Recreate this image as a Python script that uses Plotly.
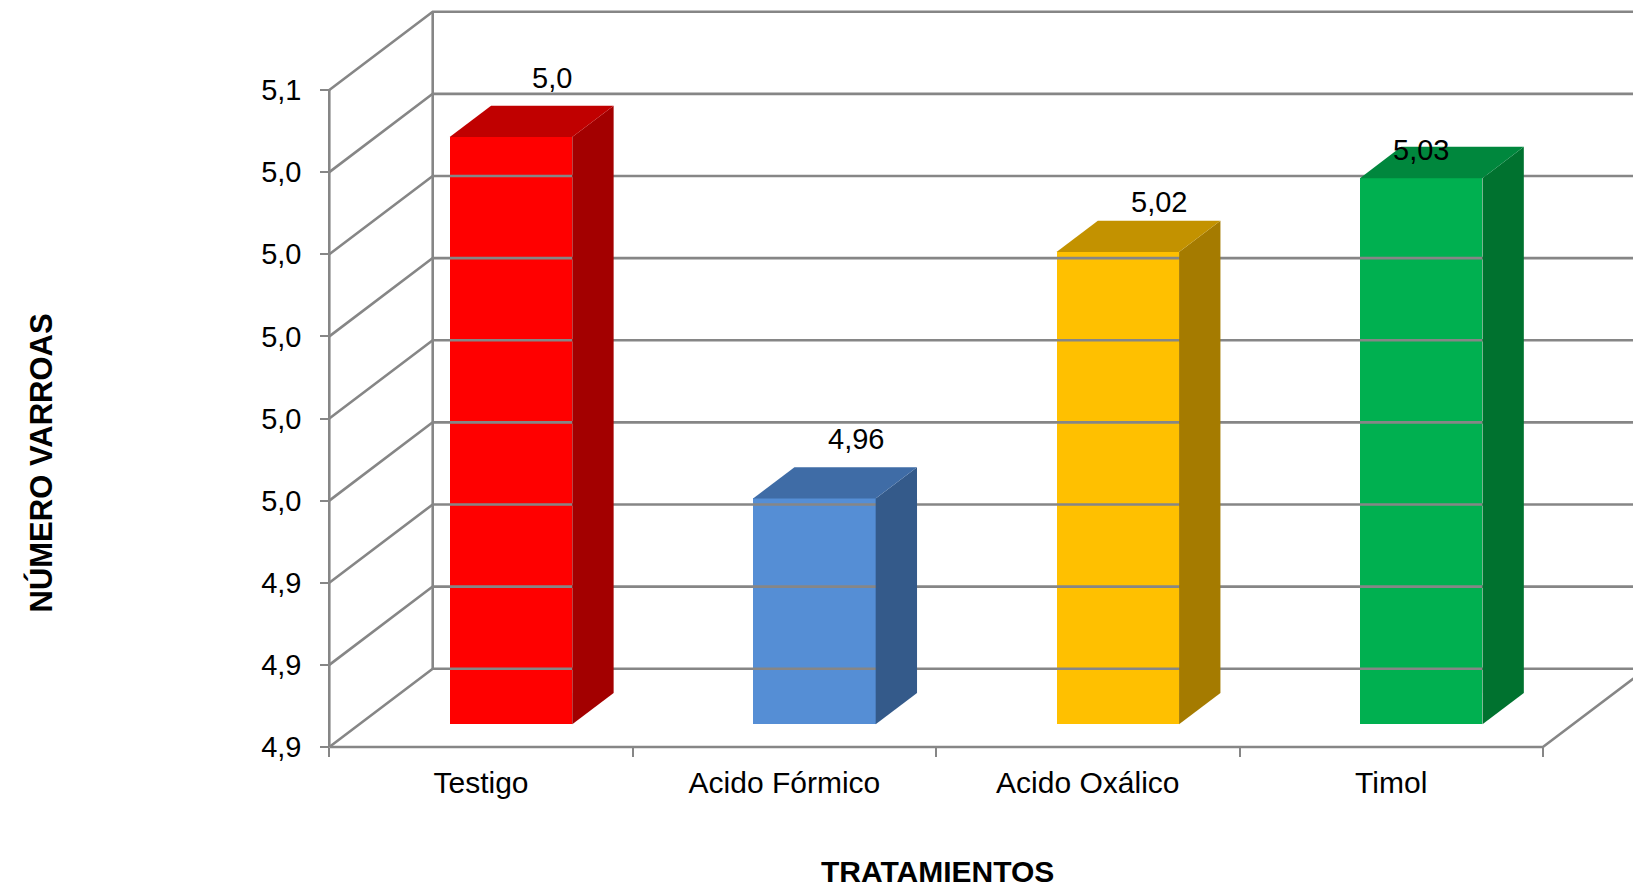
import plotly.graph_objects as go

# ---------------- data ----------------
categories = ["Testigo", "Acido Fórmico", "Acido Oxálico", "Timol"]
values = [5.043, 4.955, 5.015, 5.033]
value_labels = ["5,0", "4,96", "5,02", "5,03"]
y_tickvals = [4.90, 4.92, 4.94, 4.96, 4.98, 5.00, 5.02, 5.04, 5.06]
y_ticktext = ["4,9", "4,9", "4,9", "5,0", "5,0", "5,0", "5,0", "5,0", "5,1"]

# ---------------- style ----------------
front_colors = ["#FF0000", "#558ED5", "#FFC000", "#00B050"]
top_colors = ["#C00000", "#3F6CA6", "#C39200", "#00873D"]
side_colors = ["#A30000", "#345A8A", "#A57B00", "#00722F"]
GRID = "#868686"
FONT = "Liberation Sans, Arial, sans-serif"

W, H = 1633, 894
X0_PX, CAT_PX = 329.3, 303.4      # pixel of front y-axis, pixels per category
Y0_PX, UNIT_PX = 747.0, 4106.25   # pixel of floor front edge, pixels per value unit
DX = 103.4 / CAT_PX               # depth offset (x, data units)
DY = 78.3 / UNIT_PX               # depth offset (y, data units)
BAR_W = 0.404
F0, F1 = 0.29, 0.69               # bar front/back depth fractions
label_depth = [F1, F1, F1, F0]
label_yshift = [28, 28, 19, 28]

ymin = y_tickvals[0]
ymax = y_tickvals[-1]
ncat = len(categories)
x_range = [-X0_PX / CAT_PX, (W - X0_PX) / CAT_PX]
y_range = [ymin - (H - Y0_PX) / UNIT_PX, ymin + Y0_PX / UNIT_PX]

fig = go.Figure()

def line(xs, ys):
    fig.add_trace(go.Scatter(x=xs, y=ys, mode="lines",
                             line=dict(color=GRID, width=2.6),
                             hoverinfo="skip", showlegend=False))

# walls / gridlines
line([0, 0], [ymin, ymax])
line([DX, DX], [ymin + DY, ymax + DY])
for v in y_tickvals:
    line([0, DX, ncat + DX], [v, v + DY, v + DY])
# floor
line([0, ncat, ncat + DX], [ymin, ymin, ymin + DY])

# bars
for i, (cat, v) in enumerate(zip(categories, values)):
    c = i + 0.5
    xl0 = c - BAR_W / 2 + F0 * DX
    xr0 = c + BAR_W / 2 + F0 * DX
    xl1 = c - BAR_W / 2 + F1 * DX
    xr1 = c + BAR_W / 2 + F1 * DX
    b0, b1 = ymin + F0 * DY, ymin + F1 * DY
    t0, t1 = v + F0 * DY, v + F1 * DY
    # side face
    fig.add_trace(go.Scatter(x=[xr0, xr0, xr1, xr1, xr0], y=[b0, t0, t1, b1, b0],
                             mode="lines", fill="toself", fillcolor=side_colors[i],
                             line=dict(width=0, color=side_colors[i]),
                             hoverinfo="skip", showlegend=False))
    # top face
    fig.add_trace(go.Scatter(x=[xl0, xr0, xr1, xl1, xl0], y=[t0, t0, t1, t1, t0],
                             mode="lines", fill="toself", fillcolor=top_colors[i],
                             line=dict(width=0, color=top_colors[i]),
                             hoverinfo="skip", showlegend=False))
    # front face
    fig.add_trace(go.Bar(x=[c + F0 * DX], y=[v - ymin], base=[b0], width=[BAR_W],
                         marker=dict(color=front_colors[i], line=dict(width=0)),
                         name=cat, showlegend=False))
    fig.add_annotation(x=c + label_depth[i] * DX, y=v + label_depth[i] * DY,
                       text=value_labels[i], showarrow=False, yanchor="middle",
                       yshift=label_yshift[i],
                       font=dict(family=FONT, size=29, color="#000000"))

fig.update_layout(
    width=W, height=H,
    margin=dict(l=0, r=0, t=0, b=0, autoexpand=False),
    paper_bgcolor="white", plot_bgcolor="white",
    bargap=0,
    xaxis=dict(range=x_range, anchor="free", position=(H - Y0_PX) / H,
               showgrid=False, zeroline=False, showline=False,
               tickmode="array", tickvals=list(range(ncat + 1)),
               showticklabels=False, ticks="outside", ticklen=9,
               tickwidth=2, tickcolor=GRID),
    xaxis2=dict(range=x_range, overlaying="x", anchor="free",
                position=(H - Y0_PX) / H, side="bottom",
                showgrid=False, zeroline=False, showline=False,
                tickmode="array", tickvals=[i + 0.5 for i in range(ncat)],
                ticktext=categories, ticks="", ticklabelstandoff=15,
                tickfont=dict(family=FONT, size=30, color="#000000")),
    yaxis=dict(range=y_range, anchor="free", position=X0_PX / W,
               showgrid=False, zeroline=False, showline=False,
               tickmode="array", tickvals=y_tickvals, ticktext=y_ticktext,
               ticks="outside", ticklen=9, tickwidth=2, tickcolor=GRID,
               ticklabelstandoff=13,
               tickfont=dict(family=FONT, size=29, color="#000000")),
)
# dummy trace so xaxis2 is drawn
fig.add_trace(go.Scatter(x=[None], y=[None], xaxis="x2", yaxis="y",
                         showlegend=False, hoverinfo="skip"))

fig.add_annotation(xref="paper", yref="paper", x=41 / W, y=1 - 463.5 / H,
                   text="<b>NÚMERO VARROAS</b>", textangle=-90, showarrow=False,
                   xanchor="center", yanchor="middle",
                   font=dict(family=FONT, size=31, color="#000000"))
fig.add_annotation(xref="paper", yref="paper", x=937 / W, y=1 - 871.7 / H,
                   text="<b>TRATAMIENTOS</b>", showarrow=False,
                   xanchor="center", yanchor="middle",
                   font=dict(family=FONT, size=30, color="#000000"))

fig.write_html("out.html")
